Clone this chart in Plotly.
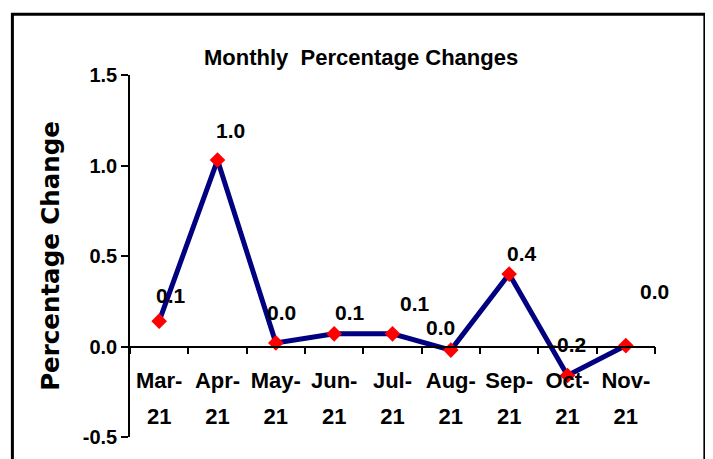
import plotly.graph_objects as go

categories = ["Mar-", "Apr-", "May-", "Jun-", "Jul-", "Aug-", "Sep-", "Oct-", "Nov-"]
years = ["21", "21", "21", "21", "21", "21", "21", "21", "21"]
values = [0.14, 1.03, 0.02, 0.07, 0.07, -0.02, 0.40, -0.16, 0.005]
labels = ["0.1", "1.0", "0.0", "0.1", "0.1", "0.0", "0.4", "-0.2", "0.0"]
y_ticks = [-0.5, 0.0, 0.5, 1.0, 1.5]
y_ticktext = ["-0.5", "0.0", "0.5", "1.0", "1.5"]

# label offsets (pixels) relative to each point
label_dx = [12, 13, 6, 16, 22, -10, 13, 0, 29]
label_dy = [26, 30, 30, 21, 30, 23, 21, 31, 54]

FONT = "Liberation Sans, Arial, sans-serif"

x_cats = [f"{c}<br>{y}" for c, y in zip(categories, years)]
x_ticktext = [f'<span style="font-size:22px"><b>{c}</b></span><br>'
              f'<span style="font-size:22px"><b>{y}</b></span>'
              for c, y in zip(categories, years)]

fig = go.Figure()
fig.add_trace(go.Scatter(
    x=x_cats, y=values, mode="lines+markers",
    line=dict(color="#000080", width=5),
    marker=dict(symbol="diamond", color="#ff0000", size=12),
    hoverinfo="skip", showlegend=False,
))

for c, v, t, dx, dy in zip(x_cats, values, labels, label_dx, label_dy):
    fig.add_annotation(x=c, y=v, text=f"<b>{t}</b>", showarrow=False,
                       xshift=dx, yshift=dy,
                       font=dict(family=FONT, size=21, color="black"))

fig.add_annotation(xref="paper", yref="paper", x=0.44, y=1.047,
                   xanchor="center", yanchor="middle",
                   text="<b>Monthly  Percentage Changes</b>", showarrow=False,
                   font=dict(family=FONT, size=22, color="black"))

# outer frame
fig.add_shape(type="rect", xref="paper", yref="paper",
              x0=-0.224, x1=1.095, y0=-0.12, y1=1.168,
              line=dict(color="black", width=3))

fig.update_layout(
    width=705, height=451,
    margin=dict(l=122, r=58, t=67, b=22),
    paper_bgcolor="white", plot_bgcolor="white",
    xaxis=dict(
        type="category", range=[-0.5, 8.5],
        tickvals=x_cats, ticktext=x_ticktext, tickangle=0,
        anchor="free", position=0.25,
        showline=True, linecolor="black", linewidth=1.5,
        ticks="outside", ticklen=7, tickcolor="black", tickwidth=1.5,
        tickson="boundaries", showgrid=False, zeroline=False,
        ticklabelstandoff=7,
        tickfont=dict(family=FONT, size=28, color="black"),
    ),
    yaxis=dict(
        range=[-0.5, 1.5], tickvals=y_ticks,
        ticktext=[f"<b>{t}</b>" for t in y_ticktext],
        showline=True, linecolor="black", linewidth=1.5,
        ticks="outside", ticklen=7, tickcolor="black", tickwidth=1.5,
        showgrid=False, zeroline=False,
        tickfont=dict(family=FONT, size=20, color="black"),
        title=dict(text="<b>Percentage Change</b>", standoff=16,
                   font=dict(family="DejaVu Sans, sans-serif", size=24.5, color="black")),
    ),
)

fig.write_html("out.html")
